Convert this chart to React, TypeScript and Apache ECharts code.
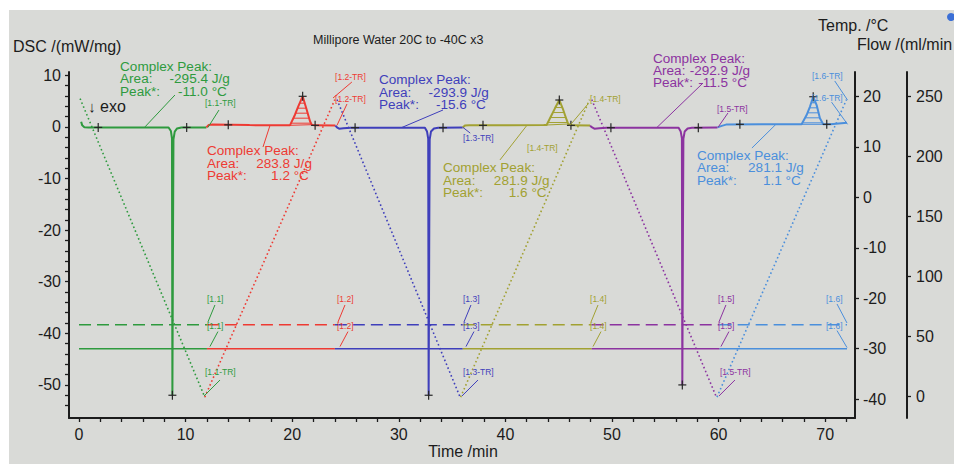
import React, { useEffect, useRef } from "react";
import * as echarts from "echarts";

// ---------- styling ----------
const FONT = '"Liberation Sans", Arial, Helvetica, sans-serif';
const INK = "#1c1c1c";
const BG = "#d9dad7";
const GREEN = "#2e9a3e";
const RED = "#ee3a33";
const BLUE = "#3f3fbb";
const OLIVE = "#a2a132";
const PURPLE = "#8c33a0";
const LBLUE = "#4b8fdc";
const SEG_COLORS = [GREEN, RED, BLUE, OLIVE, PURPLE, LBLUE];

// ---------- axis ticks ----------
const TIME_TICKS = [0, 10, 20, 30, 40, 50, 60, 70];
const TIME_MINOR = [0, 2, 4, 6, 8, 10, 12, 14, 16, 18, 20, 22, 24, 26, 28, 30, 32, 34, 36, 38, 40, 42, 44, 46, 48, 50, 52, 54, 56, 58, 60, 62, 64, 66, 68, 70, 72];
const DSC_TICKS = [-50, -40, -30, -20, -10, 0, 10];
const DSC_MINOR = [-54, -52, -50, -48, -46, -44, -42, -40, -38, -36, -34, -32, -30, -28, -26, -24, -22, -20, -18, -16, -14, -12, -10, -8, -6, -4, -2, 0, 2, 4, 6, 8, 10];
const TEMP_TICKS = [-40, -30, -20, -10, 0, 10, 20];
const FLOW_TICKS = [0, 50, 100, 150, 200, 250];

// ---------- DSC curve, [time min, DSC mW/mg], per segment ----------
const dsc_1_1 = [[0.2, 1.0], [0.3, 0.3], [0.5, -0.05], [0.9, -0.1], [4.0, -0.1], [8.4, -0.1], [8.62, -0.8], [8.72, -2.2], [8.76, -52.0], [8.82, -20.0], [8.86, -2.4], [8.98, -0.9], [9.2, -0.3], [9.6, -0.1], [11.95, -0.1]];
const dsc_1_2 = [[11.95, -0.1], [12.15, 0.35], [12.5, 0.45], [16.0, 0.35], [19.5, 0.3], [19.79, 0.31], [20.26, 2.36], [20.57, 3.99], [20.98, 5.93], [21.36, 3.33], [21.67, 1.09], [21.83, 0.43], [22.1, 0.3], [24.05, 0.25]];
const dsc_1_3 = [[24.05, 0.25], [24.2, -0.1], [24.4, -0.35], [24.8, -0.25], [25.5, -0.15], [32.45, -0.15], [32.65, -0.9], [32.76, -2.3], [32.8, -52.0], [32.86, -20.0], [32.9, -2.4], [33.02, -0.9], [33.3, -0.3], [33.7, -0.15], [36.0, -0.1]];
const dsc_1_4 = [[36.0, -0.1], [36.2, 0.25], [36.6, 0.3], [43.6, 0.35], [43.87, 0.37], [44.34, 2.31], [44.65, 3.6], [45.06, 5.21], [45.43, 3.28], [45.75, 1.34], [45.9, 0.56], [46.2, 0.3], [47.95, 0.25]];
const dsc_1_5 = [[47.95, 0.25], [48.1, -0.05], [48.35, -0.35], [48.8, -0.25], [49.5, -0.15], [56.25, -0.15], [56.45, -0.9], [56.56, -2.2], [56.6, -50.0], [56.66, -20.0], [56.7, -2.3], [56.82, -0.9], [57.1, -0.3], [57.5, -0.15], [59.9, -0.1]];
const dsc_1_6 = [[59.9, -0.1], [60.3, 0.2], [60.7, 0.45], [64.0, 0.5], [67.79, 0.5], [68.26, 2.3], [68.57, 3.9], [68.88, 5.85], [69.2, 4.24], [69.51, 1.67], [69.82, 0.5], [70.5, 0.5], [72.05, 0.8]];
const DSC_SEGMENTS = [dsc_1_1, dsc_1_2, dsc_1_3, dsc_1_4, dsc_1_5, dsc_1_6];

// ---------- temperature, [time min, °C] ----------
const temp_1_1 = [[0.1, 19.6], [11.8, -39.6]];
const temp_1_2 = [[11.8, -39.6], [24.0, 19.4]];
const temp_1_3 = [[24.2, 19.4], [35.75, -39.6]];
const temp_1_4 = [[35.8, -39.6], [47.9, 19.4]];
const temp_1_5 = [[48.1, 19.4], [59.8, -39.6]];
const temp_1_6 = [[59.85, -39.6], [72.0, 19.4]];
const TEMP_SEGMENTS = [temp_1_1, temp_1_2, temp_1_3, temp_1_4, temp_1_5, temp_1_6];

// ---------- gas flows ----------
const SEGMENT_BOUNDS = [0, 12.0, 24.0, 36.0, 48.1, 60.1, 72.05];
const PROTECTIVE_FLOW = 60;
const PURGE_FLOW = 40;

// ---------- evaluation marks, [time, DSC] ----------
const LIMIT_MARKS = [[1.8, -0.1], [10.1, -0.1], [14.0, 0.4], [22.15, 0.3], [25.9, -0.15], [34.15, -0.15], [37.9, 0.3], [46.15, 0.3], [49.9, -0.15], [58.1, -0.15], [62.0, 0.5], [70.15, 0.5]];
const PEAK_MARKS = [[20.98, 5.93], [45.06, 5.21], [68.88, 5.85]];
const SPIKE_MARKS = [[8.76, -52.0], [32.8, -52.0], [56.6, -50.0]];
const HATCHED_PEAKS = [
  { seg: 1, from: 19.79, to: 21.83 },
  { seg: 3, from: 43.87, to: 45.9 },
  { seg: 5, from: 67.79, to: 69.82 },
];

// ---------- peak results ----------
const RESULT_AREAS = ["-295.4 J/g", "283.8 J/g", "-293.9 J/g", "281.9 J/g", "-292.9 J/g", "281.1 J/g"];
const RESULT_PEAKS = ["-11.0 °C", "1.2 °C", "-15.6 °C", "1.6 °C", "-11.5 °C", "1.1 °C"];

// annotation placement in (time, DSC) units
const RESULT_BOXES = [
  { t: 3.85, v: 11.67, tRight: 14.15, lead: [6.19, 0.0, 9.0, 6.18] },
  { t: 12.0, v: -4.67, tRight: 21.85, lead: [17.92, 0.3, 17.26, -3.9] },
  { t: 28.14, v: 9.09, tRight: 38.45, lead: [30.3, -0.1, 34.15, 3.28] },
  { t: 34.15, v: -7.97, tRight: 44.15, lead: [39.49, -6.41, 42.02, 0.3] },
  { t: 53.85, v: 13.29, tRight: 62.95, lead: [54.22, -0.1, 58.54, 8.5] },
  { t: 57.97, v: -5.58, tRight: 68.0, lead: [63.13, -4.09, 65.38, 0.5] },
];
const TR_LABELS = [
  { text: "[1.1-TR]", seg: 0, t: 11.82, v: 4.63, lead: [12.1, -0.1, 13.13, 3.27] },
  { text: "[1.2-TR]", seg: 1, t: 24.02, v: 9.67, lead: [23.83, 5.6, 25.6, 8.7] },
  { text: "[1.2-TR]", seg: 1, t: 24.02, v: 5.4, lead: [24.2, 0.3, 25.14, 4.44] },
  { text: "[1.3-TR]", seg: 2, t: 36.02, v: -2.15, lead: [36.02, -0.1, 36.7, -1.2] },
  { text: "[1.4-TR]", seg: 3, t: 47.94, v: 5.4, lead: [46.06, 0.3, 47.75, 4.44] },
  { text: "[1.4-TR]", seg: 3, t: 42.03, v: -4.09, lead: null },
  { text: "[1.5-TR]", seg: 4, t: 59.85, v: 3.45, lead: [59.94, -0.1, 60.88, 2.69] },
  { text: "[1.6-TR]", seg: 5, t: 68.76, v: 9.86, lead: [70.9, 8.9, 72.1, 5.2] },
  { text: "[1.6-TR]", seg: 5, t: 68.76, v: 5.6, lead: [70.6, 4.8, 72.1, 0.5] },
];
const END_LABELS = [
  { text: "[1.1]", t: 12.0 },
  { text: "[1.2]", t: 24.2 },
  { text: "[1.3]", t: 36.02 },
  { text: "[1.4]", t: 47.94 },
  { text: "[1.5]", t: 59.94 },
  { text: "[1.6]", t: 70.08 },
];
const END_LABEL_V = [-33.35, -38.5];
const BOTTOM_TR_LABELS = [
  { text: "[1.1-TR]", seg: 0, t: 11.82 },
  { text: "[1.3-TR]", seg: 2, t: 36.02 },
  { text: "[1.5-TR]", seg: 4, t: 60.13 },
];
const BOTTOM_TR_V = -47.5;

// ---------- helpers ----------
function crossX(pts: number[][], y: number): number | null {
  for (let i = 0; i < pts.length - 1; i++) {
    const [x1, y1] = pts[i];
    const [x2, y2] = pts[i + 1];
    if ((y1 - y) * (y2 - y) <= 0 && y1 !== y2) return x1 + ((y - y1) * (x2 - x1)) / (y2 - y1);
  }
  return null;
}

function buildOption() {
  const series: any[] = [];
  for (let i = 0; i < 6; i++) {
    const a = SEGMENT_BOUNDS[i];
    const b = SEGMENT_BOUNDS[i + 1];
    series.push({
      type: "line", yAxisIndex: 2, silent: true, symbol: "none", z: 2,
      data: [[a, PROTECTIVE_FLOW], [b, PROTECTIVE_FLOW]],
      lineStyle: { color: SEG_COLORS[i], width: 1.6, type: [12, 6] },
    });
    series.push({
      type: "line", yAxisIndex: 2, silent: true, symbol: "none", z: 2,
      data: [[a, PURGE_FLOW], [b, PURGE_FLOW]],
      lineStyle: { color: SEG_COLORS[i], width: 1.6 },
    });
  }
  TEMP_SEGMENTS.forEach((d, i) => {
    series.push({
      type: "line", yAxisIndex: 1, silent: true, symbol: "none", z: 3,
      data: d,
      lineStyle: { color: SEG_COLORS[i], width: 1.6, type: [1.6, 2.6] },
    });
  });
  DSC_SEGMENTS.forEach((d, i) => {
    series.push({
      type: "line", yAxisIndex: 0, silent: true, symbol: "none", z: 5,
      data: d,
      lineStyle: { color: SEG_COLORS[i], width: 2 },
    });
  });
  series.push({
    type: "custom", coordinateSystem: "cartesian2d", xAxisIndex: 0, yAxisIndex: 0, silent: true, z: 4,
    data: HATCHED_PEAKS.map((_, i) => [i]),
    renderItem: (params: any, api: any) => {
      const pk = HATCHED_PEAKS[params.dataIndex];
      const color = SEG_COLORS[pk.seg];
      const pts = DSC_SEGMENTS[pk.seg]
        .filter((p) => p[0] >= pk.from - 1e-9 && p[0] <= pk.to + 1e-9)
        .map((p) => api.coord(p));
      let apex = 0;
      pts.forEach((p: number[], i: number) => { if (p[1] < pts[apex][1]) apex = i; });
      const baseY = Math.min(pts[0][1], pts[pts.length - 1][1]);
      const children: any[] = [
        { type: "line", shape: { x1: pts[0][0], y1: pts[0][1], x2: pts[pts.length - 1][0], y2: pts[pts.length - 1][1] }, style: { stroke: color, lineWidth: 1 } },
      ];
      for (let y = baseY - 1.5; y > pts[apex][1] + 2; y -= 5) {
        const xl = crossX(pts.slice(0, apex + 1), y);
        const xr = crossX(pts.slice(apex), y);
        if (xl != null && xr != null) {
          children.push({ type: "line", shape: { x1: xl, y1: y, x2: xr, y2: y }, style: { stroke: color, lineWidth: 1 } });
        }
      }
      return { type: "group", children };
    },
  });
  series.push({
    type: "custom", coordinateSystem: "cartesian2d", xAxisIndex: 0, yAxisIndex: 0, silent: true, z: 6,
    data: [...LIMIT_MARKS, ...PEAK_MARKS, ...SPIKE_MARKS],
    renderItem: (params: any, api: any) => {
      const p = api.coord([api.value(0), api.value(1)]);
      const st = { stroke: "#262626", lineWidth: 1.2 };
      return {
        type: "group",
        children: [
          { type: "line", shape: { x1: p[0] - 4, y1: p[1], x2: p[0] + 4, y2: p[1] }, style: st },
          { type: "line", shape: { x1: p[0], y1: p[1] - 4.5, x2: p[0], y2: p[1] + 4.5 }, style: st },
        ],
      };
    },
  });

  const axisCommon = {
    axisLine: { show: true, onZero: false, lineStyle: { color: INK, width: 2 } },
    splitLine: { show: false },
  };
  const tickStyle = { color: INK, width: 1.3 };
  const labelStyle = { fontSize: 16, color: INK, fontFamily: FONT };

  return {
    animation: false,
    backgroundColor: "#ffffff",
    textStyle: { fontFamily: FONT },
    grid: { left: 69, right: 99, top: 72, bottom: 46, containLabel: false },
    xAxis: {
      type: "value", min: -0.94, max: 72.8, ...axisCommon,
      axisTick: { show: true, customValues: TIME_MINOR, length: 4, lineStyle: tickStyle },
      axisLabel: { customValues: TIME_TICKS, margin: 8, ...labelStyle },
    },
    yAxis: [
      {
        type: "value", position: "left", min: -56.41, max: 10.64, ...axisCommon,
        axisTick: { show: true, customValues: DSC_MINOR, length: 4, lineStyle: tickStyle },
        axisLabel: { customValues: DSC_TICKS, margin: 8, ...labelStyle },
      },
      {
        type: "value", position: "right", min: -43.74, max: 24.87, ...axisCommon,
        axisTick: { show: true, customValues: TEMP_TICKS, length: 4, lineStyle: tickStyle },
        axisLabel: { customValues: TEMP_TICKS, margin: 8, ...labelStyle },
      },
      {
        type: "value", position: "right", offset: 52, min: -17.75, max: 270.6, ...axisCommon,
        axisTick: { show: true, customValues: FLOW_TICKS, length: 4, lineStyle: tickStyle },
        axisLabel: { customValues: FLOW_TICKS, margin: 9, ...labelStyle },
      },
    ],
    series,
  };
}

function buildGraphics(px: (t: number, v: number) => number[]) {
  const els: any[] = [];
  const text = (s: string, x: number, y: number, fill: string, size: number, align = "left", sx = 1) => ({
    type: "text", x, y, scaleX: sx, silent: true, z: 10,
    style: { text: s, fill, font: `${size}px ${FONT}`, textAlign: align, textVerticalAlign: "middle" },
  });
  const line = (x1: number, y1: number, x2: number, y2: number, stroke: string) => ({
    type: "line", silent: true, z: 10, shape: { x1, y1, x2, y2 }, style: { stroke, lineWidth: 1 },
  });

  els.push({ type: "rect", z: -10, silent: true, shape: { x: 9, y: 10, width: 945, height: 454 }, style: { fill: BG } });
  els.push({ type: "circle", z: 10, silent: true, shape: { cx: 951, cy: 17, r: 4 }, style: { fill: "#3b6fd6" } });

  els.push(text("DSC /(mW/mg)", 13, 46, INK, 16));
  els.push(text("Millipore Water 20C to -40C x3", 313, 40, INK, 12.5));
  els.push(text("Temp. /°C", 818, 25, INK, 16));
  els.push(text("Flow /(ml/min", 857, 44, INK, 16));
  els.push(text("Time /min", 463, 451, INK, 16, "center"));
  els.push(text("↓", 92, 106, INK, 15, "center"));
  els.push(text("exo", 100, 106, INK, 16));

  const BLOCK = 12;
  const SX = 1.13;
  const STEP = 12.4;
  RESULT_BOXES.forEach((b, i) => {
    const c = SEG_COLORS[i];
    const [x, y] = px(b.t, b.v);
    const [xr] = px(b.tRight, b.v);
    els.push(text("Complex Peak:", x, y, c, BLOCK, "left", SX));
    els.push(text("Area:", x, y + STEP, c, BLOCK, "left", SX));
    els.push(text(RESULT_AREAS[i], xr, y + STEP, c, BLOCK, "right", SX));
    els.push(text("Peak*:", x, y + 2 * STEP, c, BLOCK, "left", SX));
    els.push(text(RESULT_PEAKS[i], xr - 3, y + 2 * STEP, c, BLOCK, "right", SX));
    const [a1, a2] = px(b.lead[0], b.lead[1]);
    const [b1, b2] = px(b.lead[2], b.lead[3]);
    els.push(line(a1, a2, b1, b2, c));
  });

  TR_LABELS.forEach((l) => {
    const c = SEG_COLORS[l.seg];
    const [x, y] = px(l.t, l.v);
    els.push(text(l.text, x, y, c, 8.5));
    if (l.lead) {
      const [a1, a2] = px(l.lead[0], l.lead[1]);
      const [b1, b2] = px(l.lead[2], l.lead[3]);
      els.push(line(a1, a2, b1, b2, c));
    }
  });

  END_LABELS.forEach((l, i) => {
    const c = SEG_COLORS[i];
    const last = i === END_LABELS.length - 1;
    END_LABEL_V.forEach((v, k) => {
      const [x, y] = px(l.t, v);
      els.push(text(l.text, x, y, c, 8.5));
      if (last) {
        els.push(line(x + 11, y + 5, x + 21, y + (k === 0 ? 24 : 22), c));
      } else if (k === 0) {
        els.push(line(x + 1, y + 23, x + 8, y + 6, c));
      } else {
        els.push(line(x + 3, y + 21, x + 11, y + 6, c));
      }
    });
  });

  BOTTOM_TR_LABELS.forEach((l) => {
    const c = SEG_COLORS[l.seg];
    const [x, y] = px(l.t, BOTTOM_TR_V);
    els.push(text(l.text, x, y, c, 8.5));
    els.push(line(x - 1, y + 24, x + 15, y + 8, c));
  });

  return els;
}

export default function App() {
  const ref = useRef<HTMLDivElement>(null);
  useEffect(() => {
    document.body.style.margin = "0";
    const chart = echarts.init(ref.current!, undefined, { renderer: "svg" });
    chart.setOption(buildOption() as any);
    const px = (t: number, v: number) =>
      chart.convertToPixel({ xAxisIndex: 0, yAxisIndex: 0 } as any, [t, v]) as number[];
    chart.setOption({ graphic: { elements: buildGraphics(px) } } as any);
    return () => chart.dispose();
  }, []);
  return <div ref={ref} style={{ width: 954, height: 464 }} />;
}
